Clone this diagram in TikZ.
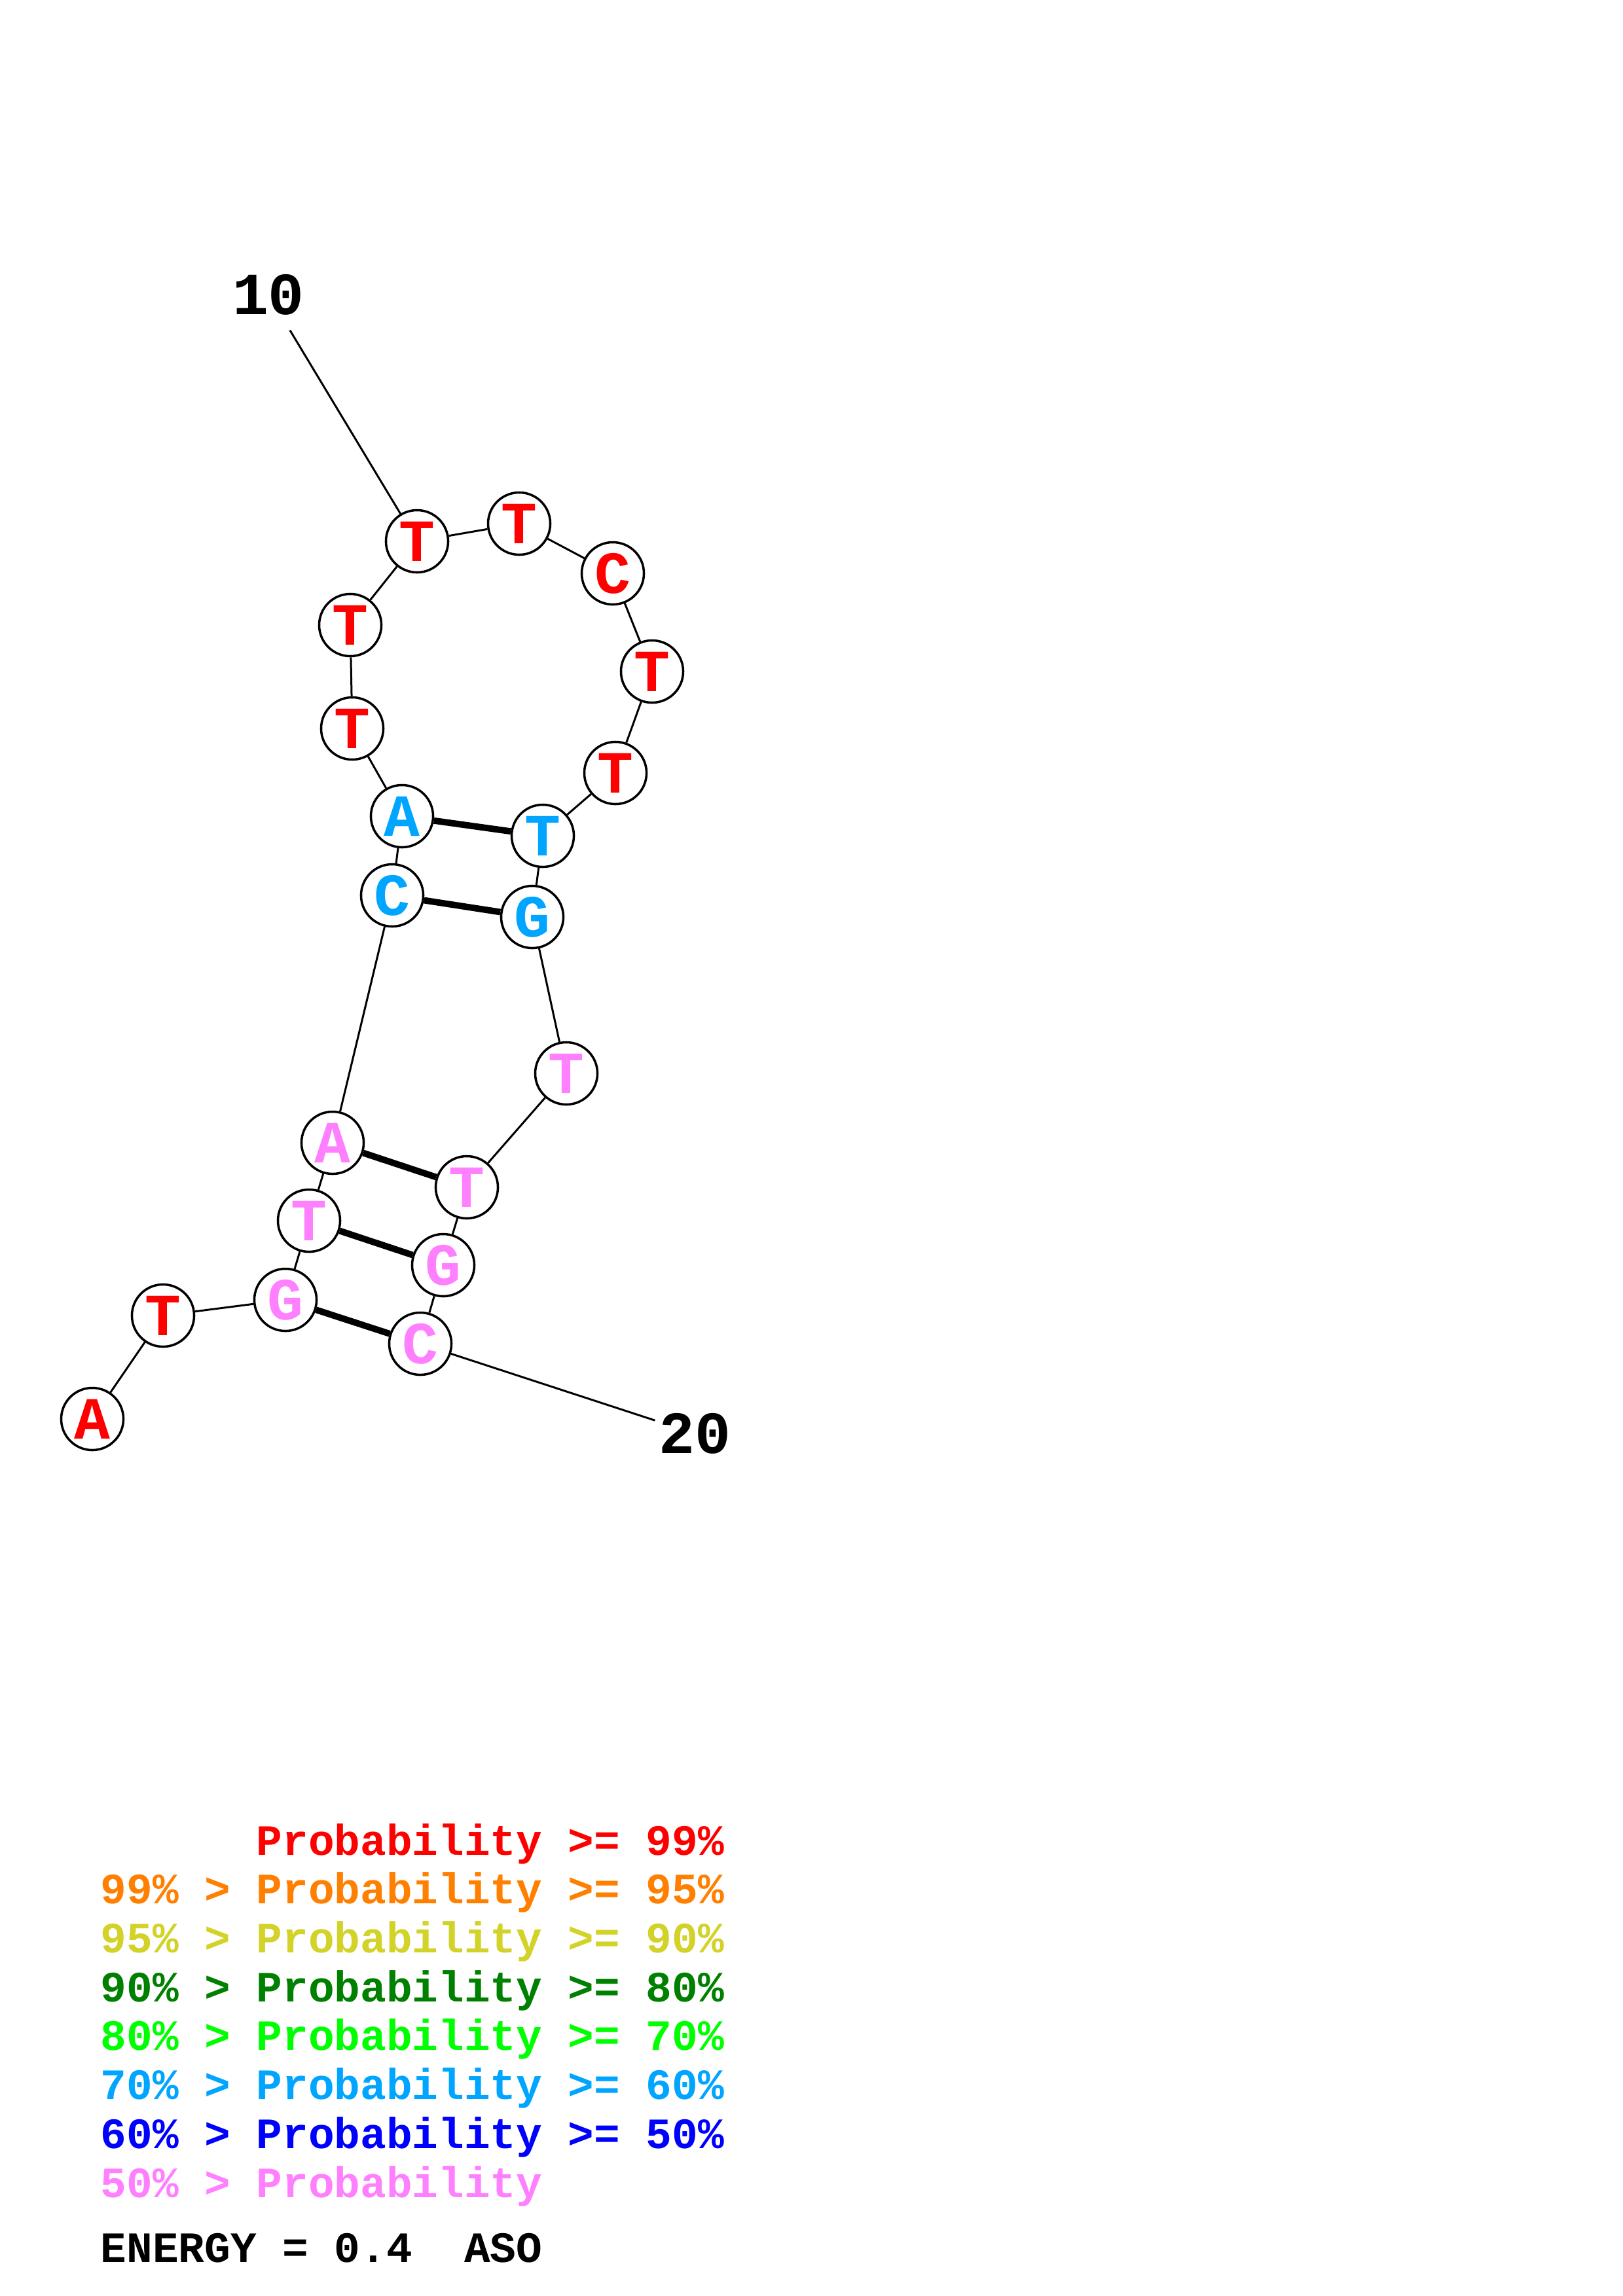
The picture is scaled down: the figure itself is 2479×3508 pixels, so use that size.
\documentclass[tikz,border=0pt]{standalone}
\usepackage{fontspec}
\setmonofont{Liberation Mono}
\definecolor{pA}{RGB}{255,0,0}     % >= 99
\definecolor{pB}{RGB}{255,128,0}   % 95 - 99
\definecolor{pC}{RGB}{210,210,40}  % 90 - 95
\definecolor{pD}{RGB}{0,128,0}     % 80 - 90
\definecolor{pE}{RGB}{0,255,0}     % 70 - 80
\definecolor{pF}{RGB}{0,165,255}   % 60 - 70
\definecolor{pG}{RGB}{0,0,255}     % 50 - 60
\definecolor{pH}{RGB}{255,128,255} % < 50
\tikzset{
  base/.style={circle, draw, fill=white, line width=1pt, minimum size=0.95cm, inner sep=0pt,
    font=\ttfamily\bfseries\fontsize{26}{26}\selectfont}, % one nucleotide
  backbone/.style={line width=0.85pt}, % chain between neighbours
  pair/.style={line width=2.8pt}, % base pairs
  numlabel/.style={circle, inner sep=0pt, font=\ttfamily\bfseries\fontsize{26}{26}\selectfont},
  legend/.style={anchor=base west, inner sep=0pt, font=\ttfamily\bfseries\fontsize{18.8}{18.8}\selectfont},
}
\begin{document}
\begin{tikzpicture}[x=0.01cm, y=-0.01cm]
    \useasboundingbox (0,0) rectangle (2479,3508);

    % nucleotides
    \node[base, text=pA] (n1) at (141,2168) {A};
    \node[base, text=pA] (n2) at (249,2010) {T};
    \node[base, text=pH] (n3) at (436,1986) {G};
    \node[base, text=pH] (n4) at (472,1865) {T};
    \node[base, text=pH] (n5) at (508,1746) {A};
    \node[base, text=pF] (n6) at (599,1368) {C};
    \node[base, text=pF] (n7) at (614,1247) {A};
    \node[base, text=pA] (n8) at (538,1113) {T};
    \node[base, text=pA] (n9) at (535,955) {T};
    \node[base, text=pA] (n10) at (637,827) {T};
    \node[base, text=pA] (n11) at (793,800) {T};
    \node[base, text=pA] (n12) at (936,876) {C};
    \node[base, text=pA] (n13) at (996,1026) {T};
    \node[base, text=pA] (n14) at (940,1181) {T};
    \node[base, text=pF] (n15) at (829,1277) {T};
    \node[base, text=pF] (n16) at (813,1401) {G};
    \node[base, text=pH] (n17) at (865,1640) {T};
    \node[base, text=pH] (n18) at (713,1814) {T};
    \node[base, text=pH] (n19) at (677,1933) {G};
    \node[base, text=pH] (n20) at (642,2053) {C};

    \node[numlabel] (l10) at (410,450) {10};
    \node[numlabel] (l20) at (1061,2190) {20};

    % backbone
    \draw[backbone] (n1) -- (n2) -- (n3) -- (n4) -- (n5) -- (n6) -- (n7) -- (n8) -- (n9) -- (n10)
        -- (n11) -- (n12) -- (n13) -- (n14) -- (n15) -- (n16) -- (n17) -- (n18) -- (n19) -- (n20);
    \draw[backbone] (n10) -- (l10);
    \draw[backbone] (n20) -- (l20);

    % pairs
    \draw[pair] (n3) -- (n20);
    \draw[pair] (n4) -- (n19);
    \draw[pair] (n5) -- (n18);
    \draw[pair] (n6) -- (n16);
    \draw[pair] (n7) -- (n15);

    % legend
    \node[legend, text=pA] (k1) at (391,2834) {Probability >= 99\%};
    \node[legend, text=pB] (k2) at (153,2908) {99\% > Probability >= 95\%};
    \node[legend, text=pC] (k3) at (153,2983) {95\% > Probability >= 90\%};
    \node[legend, text=pD] (k4) at (153,3058) {90\% > Probability >= 80\%};
    \node[legend, text=pE] (k5) at (153,3132) {80\% > Probability >= 70\%};
    \node[legend, text=pF] (k6) at (153,3207) {70\% > Probability >= 60\%};
    \node[legend, text=pG] (k7) at (153,3282) {60\% > Probability >= 50\%};
    \node[legend, text=pH] (k8) at (153,3357) {50\% > Probability};
    \node[legend] (energy) at (153,3456) {ENERGY = 0.4\ \ ASO};

\end{tikzpicture}
\end{document}
